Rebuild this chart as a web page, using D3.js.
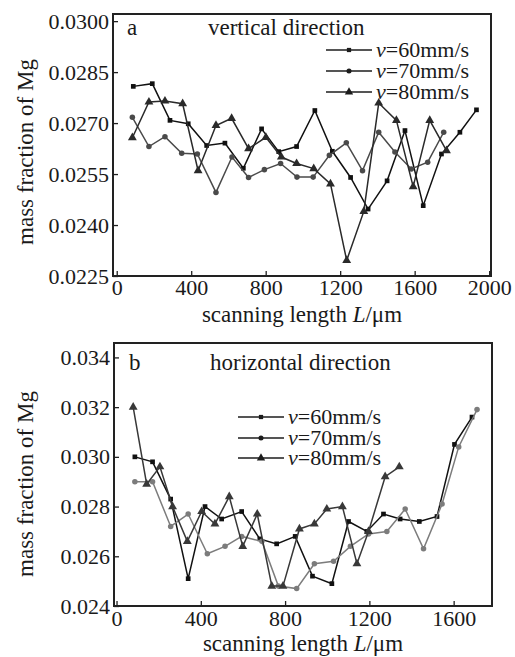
<!DOCTYPE html>
<html>
<head>
<meta charset="utf-8">
<script src="https://cdn.jsdelivr.net/npm/d3@7"></script>
<style>
  body { margin: 0; background: #fff; }
  text { font-family: "Liberation Serif", "Times New Roman", serif; fill: #1a1a1a; }
</style>
</head>
<body>
<svg id="chart" width="515" height="657"></svg>
<script>
// scanning speeds (mm/s)
const speeds = [60, 70, 80];

// panel a, vertical direction: [L (um), mass fraction]
const vert60 = [[89,.02808],[191,.02816],[286,.02708],[384,.02698],[483,.02634],[581,.02641],[680,.02567],[778,.02683],[870,.02616],[966,.02631],[1064,.02737],[1158,.02617],[1256,.02540],[1350,.02447],[1452,.02530],[1548,.02678],[1646,.02457],[1744,.02609],[1843,.02673],[1932,.02739]];
const vert70 = [[84,.02717],[173,.02631],[259,.02660],[349,.02611],[433,.02609],[533,.02496],[619,.02600],[708,.02540],[793,.02563],[880,.02581],[968,.02541],[1055,.02541],[1142,.02605],[1233,.02642],[1320,.02560],[1407,.02673],[1494,.02615],[1582,.02565],[1670,.02585],[1756,.02673]];
const vert80 = [[84,.02657],[173,.02762],[259,.02765],[354,.02757],[437,.02560],[533,.02693],[617,.02714],[708,.02625],[801,.02658],[884,.02600],[966,.02581],[1058,.02566],[1148,.02521],[1235,.02296],[1327,.02440],[1407,.02759],[1502,.02708],[1592,.02513],[1681,.02708],[1771,.02619]];

// panel b, horizontal direction
const hor60 = [[87,.0300],[171,.0298],[257,.0283],[340,.0251],[420,.0280],[499,.0275],[594,.0278],[680,.0267],[760,.0265],[848,.0268],[930,.0252],[1022,.0249],[1101,.0274],[1188,.0270],[1267,.0277],[1346,.0275],[1437,.0274],[1521,.0276],[1604,.0305],[1687,.0316]];
const hor70 = [[87,.0290],[171,.0290],[257,.0272],[340,.0277],[431,.0261],[515,.0264],[594,.0268],[690,.0266],[768,.0248],[855,.0247],[939,.0257],[1030,.0258],[1110,.0264],[1196,.0269],[1283,.0270],[1370,.0279],[1457,.0263],[1545,.0281],[1624,.0304],[1711,.0319]];
const hor80 = [[79,.0320],[143,.0289],[206,.0296],[266,.0280],[336,.0266],[404,.0278],[467,.0273],[535,.0284],[599,.0264],[668,.0277],[737,.0248],[790,.0248],[868,.0271],[939,.0273],[998,.0279],[1072,.0280],[1141,.0257],[1196,.0270],[1275,.0292],[1342,.0296]];

// tick values
const vertTicksX = [0, 400, 800, 1200, 1600, 2000];
const vertTicksY = [0.0225, 0.0240, 0.0255, 0.0270, 0.0285, 0.0300];
const horTicksX = [0, 400, 800, 1200, 1600];
const horTicksY = [0.024, 0.026, 0.028, 0.030, 0.032, 0.034];

// series styles
const symbols = [d3.symbolSquare, d3.symbolCircle, d3.symbolTriangle];
const symSizes = [22, 24, 34];
const legendColor = "#1c1c1c";

const svg = d3.select("#chart");

function drawPanel(o) {
  const g = svg.append("g");
  const x = d3.scaleLinear().domain(o.xDomain).range([o.left, o.right]);
  const y = d3.scaleLinear().domain(o.yDomain).range([o.bottom, o.top]);

  // axes, ticks pointing inward
  const xa = g.append("g")
    .attr("transform", `translate(0,${o.bottom})`)
    .call(d3.axisBottom(x).tickValues(o.xTicks).tickSize(-5).tickPadding(o.xPad).tickFormat(d3.format("d")));
  const ya = g.append("g")
    .attr("transform", `translate(${o.left},0)`)
    .call(d3.axisLeft(y).tickValues(o.yTicks).tickSize(-5).tickPadding(4).tickFormat(d3.format(o.yFmt)));
  [xa, ya].forEach(a => {
    a.select(".domain").remove();
    a.selectAll("line").attr("stroke", "#222").attr("stroke-width", 1.3);
    a.selectAll("text").style("font-size", "22px").attr("fill", "#1a1a1a");
  });

  // frame
  g.append("rect")
    .attr("x", o.left).attr("y", o.top)
    .attr("width", o.right - o.left).attr("height", o.bottom - o.top)
    .attr("fill", "none").attr("stroke", "#222").attr("stroke-width", 2);

  const line = d3.line().x(d => x(d[0])).y(d => y(d[1]));

  o.series.forEach((s, i) => {
    g.append("path")
      .datum(s)
      .attr("d", line)
      .attr("fill", "none")
      .attr("stroke", o.colors[i])
      .attr("stroke-width", 1.5);
    g.selectAll(null)
      .data(s)
      .enter()
      .append("path")
      .attr("d", d3.symbol().type(symbols[i]).size(symSizes[i]))
      .attr("transform", d => `translate(${x(d[0])},${y(d[1])})`)
      .attr("fill", o.colors[i]);
  });

  // legend
  speeds.forEach((v, i) => {
    const ly = o.legend.rows[i];
    g.append("line")
      .attr("x1", o.legend.x1).attr("x2", o.legend.x2)
      .attr("y1", ly).attr("y2", ly)
      .attr("stroke", legendColor).attr("stroke-width", 1.4);
    g.append("path")
      .attr("d", d3.symbol().type(symbols[i]).size(symSizes[i] - 4))
      .attr("transform", `translate(${(o.legend.x1 + o.legend.x2) / 2},${ly})`)
      .attr("fill", legendColor);
    const t = g.append("text")
      .attr("x", o.legend.x2 + 4).attr("y", ly).attr("dy", "0.33em")
      .style("font-size", "22px");
    t.append("tspan").style("font-style", "italic").text("v");
    t.append("tspan").text("=" + v + "mm/s");
  });

  // panel letter and heading
  g.append("text").attr("x", o.letterX).attr("y", o.headY).style("font-size", "23px").text(o.letter);
  g.append("text").attr("x", o.titleX).attr("y", o.headY).style("font-size", "23px").text(o.title);

  // axis titles
  const xt = g.append("text")
    .attr("text-anchor", "middle")
    .attr("x", (o.left + o.right) / 2)
    .attr("y", o.xTitleY)
    .style("font-size", "23px");
  xt.append("tspan").text("scanning length ");
  xt.append("tspan").style("font-style", "italic").text("L");
  xt.append("tspan").text("/\u03bcm");

  g.append("text")
    .attr("text-anchor", "middle")
    .attr("transform", `translate(33,${o.yTitleCy}) rotate(-90)`)
    .style("font-size", "23px")
    .text("mass fraction of  Mg");
}

drawPanel({
  series: [vert60, vert70, vert80],
  colors: ["#111111", "#4a4a4a", "#2a2a2a"],
  xDomain: [-20, 2010], yDomain: [0.0225, 0.03021],
  xTicks: vertTicksX, yTicks: vertTicksY, yFmt: ".4f",
  left: 113, right: 491, top: 14, bottom: 276, xPad: 3,
  letter: "a", letterX: 127, title: "vertical direction", titleX: 208, headY: 35,
  legend: { x1: 326, x2: 372, rows: [50, 71, 92] },
  xTitleY: 322, yTitleCy: 152
});

drawPanel({
  series: [hor60, hor70, hor80],
  colors: ["#111111", "#7c7c7c", "#383838"],
  xDomain: [-12, 1782], yDomain: [0.024, 0.03458],
  xTicks: horTicksX, yTicks: horTicksY, yFmt: ".3f",
  left: 114, right: 492, top: 343, bottom: 606, xPad: 4,
  letter: "b", letterX: 129, title: "horizontal direction", titleX: 210, headY: 370,
  legend: { x1: 238, x2: 284, rows: [417, 438, 458] },
  xTitleY: 651, yTitleCy: 484
});
</script>
</body>
</html>
